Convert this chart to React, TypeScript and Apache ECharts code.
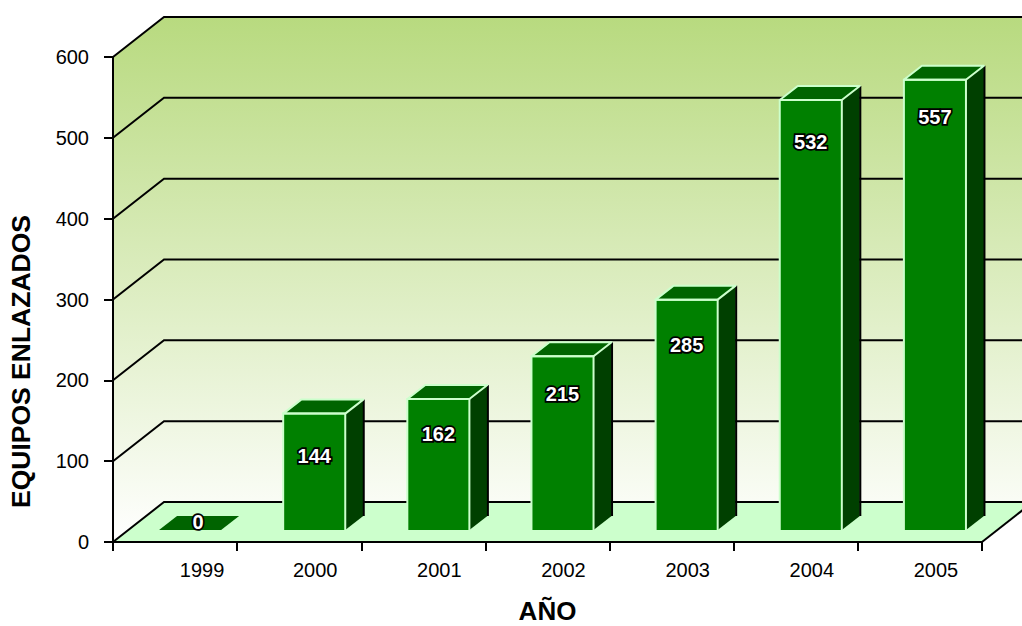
import React, { useEffect, useRef } from "react";
import * as echarts from "echarts";

const years = ["1999", "2000", "2001", "2002", "2003", "2004", "2005"];
const equipos = [0, 144, 162, 215, 285, 532, 557];
const gridValues = [0, 100, 200, 300, 400, 500, 600];

// layout of the pseudo-3D box
const W = 1022, H = 626;
const GRID = { left: 113, right: 40, top: 57, bottom: 84 };
const DEPTH_X = 51, DEPTH_Y = 40;
const BAR_RATIO = 0.5;
const BAR_DX = 15, BAR_DEPTH_X = 18, BAR_DY = 12, BAR_DEPTH_Y = 14;
const FONT = "Liberation Sans";
// distance of each value label below the bar's top edge (hand placed in the source chart)
const labelDrop = [-8, 42, 35, 38, 45, 42, 37];

const wallGradient = () =>
  new echarts.graphic.LinearGradient(0, 17, 0, 542, [
    { offset: 0, color: "#b8da7f" },
    { offset: 1, color: "#ffffff" },
  ], true);

const renderWalls = (params: any, api: any) => {
  const cs = params.coordSys;
  const x0 = cs.x, x1 = cs.x + cs.width;
  const yBase = api.coord([0, 0])[1];
  const yTop = api.coord([0, 600])[1];
  const children: any[] = [];
  const grad = wallGradient();
  children.push({
    type: "polygon",
    shape: { points: [[x0, yTop], [x0 + DEPTH_X, yTop - DEPTH_Y], [x1 + DEPTH_X, yTop - DEPTH_Y], [x1 + DEPTH_X, yBase - DEPTH_Y], [x0 + DEPTH_X, yBase - DEPTH_Y], [x0, yBase]] },
    style: { fill: grad },
  });
  children.push({
    type: "polygon",
    shape: { points: [[x0, yBase], [x1, yBase], [x1 + DEPTH_X, yBase - DEPTH_Y], [x0 + DEPTH_X, yBase - DEPTH_Y]] },
    style: { fill: "#ccffcc" },
  });
  for (const v of gridValues) {
    const y = api.coord([0, v])[1];
    children.push({
      type: "polyline",
      shape: { points: [[x0, y], [x0 + DEPTH_X, y - DEPTH_Y], [x1 + DEPTH_X, y - DEPTH_Y]] },
      style: { fill: "none", stroke: "#000", lineWidth: 2 },
    });
  }
  children.push({
    type: "line",
    shape: { x1, y1: yBase, x2: x1 + DEPTH_X, y2: yBase - DEPTH_Y },
    style: { stroke: "#000", lineWidth: 2 },
  });
  return { type: "group", children };
};

const renderBar = (params: any, api: any) => {
  const idx = api.value(0);
  const val = api.value(1);
  const pTop = api.coord([idx, val]);
  const pBase = api.coord([idx, 0]);
  const bw = api.size([1, 0])[0] * BAR_RATIO;
  const dx = BAR_DEPTH_X, dy = BAR_DEPTH_Y;
  const xL = pBase[0] - bw / 2 + BAR_DX, xR = xL + bw;
  const yB = pBase[1] - BAR_DY, yT = pTop[1] - BAR_DY;
  const children: any[] = [];
  const light = "#ccffcc";
  const topFace = [[xL, yT], [xR, yT], [xR + dx, yT - dy], [xL + dx, yT - dy]];
  if (val > 0) {
    children.push({
      type: "polygon",
      shape: { points: [[xR, yT], [xR + dx, yT - dy], [xR + dx, yB - dy], [xR, yB]] },
      style: { fill: "#004000" },
    });
    children.push({
      type: "line",
      shape: { x1: xR + dx + 0.5, y1: yT - dy, x2: xR + dx + 0.5, y2: yB - dy },
      style: { stroke: "#000", lineWidth: 2 },
    });
    children.push({
      type: "rect",
      shape: { x: xL, y: yT, width: bw, height: yB - yT },
      style: { fill: "#008000" },
    });
    children.push({
      type: "polygon",
      shape: { points: topFace },
      style: { fill: "#006400", stroke: light, lineWidth: 2, lineJoin: "round" },
    });
    children.push({
      type: "polyline",
      shape: { points: [[xL, yB], [xL, yT], [xR, yT], [xR, yB]] },
      style: { fill: "none", stroke: light, lineWidth: 2 },
    });
  } else {
    children.push({ type: "polygon", shape: { points: topFace }, style: { fill: "#006400" } });
  }
  children.push({
    type: "text",
    x: (xL + xR) / 2 + (val > 0 ? 0 : 8),
    y: yT + labelDrop[idx],
    style: {
      text: String(val),
      x: 0,
      y: 0,
      align: "center",
      verticalAlign: "middle",
      font: `bold 20px "${FONT}"`,
      fill: "#fff",
      stroke: "#000",
      lineWidth: 3.5,
    },
  });
  return { type: "group", children };
};

export default function App() {
  const ref = useRef<HTMLDivElement>(null);
  useEffect(() => {
    document.body.style.margin = "0";
    document.body.style.overflow = "hidden";
    const chart = echarts.init(ref.current!, null, { renderer: "svg" });
    chart.setOption({
      animation: false,
      backgroundColor: "#fff",
      grid: { ...GRID, outerBoundsMode: "none" },
      xAxis: {
        type: "category",
        data: years,
        name: "AÑO",
        nameLocation: "middle",
        nameGap: 56,
        nameTextStyle: { fontFamily: FONT, fontWeight: "bold", fontSize: 26, color: "#000" },
        axisLine: { show: true, lineStyle: { color: "#000", width: 2 } },
        axisTick: { show: true, interval: 0, length: 9, lineStyle: { color: "#000", width: 2 }, alignWithLabel: false },
        axisLabel: {
          interval: 0,
          fontFamily: FONT,
          fontSize: 20,
          color: "#000",
          margin: 18,
          hideOverlap: false,
          formatter: (v: string, i: number) => (i === 0 ? `{first|${v}}` : `{rest|${v}}`),
          rich: {
            first: { fontFamily: FONT, fontSize: 20, color: "#000", padding: [0, 0, 0, 54] },
            rest: { fontFamily: FONT, fontSize: 20, color: "#000", padding: [0, 0, 0, 32] },
          },
        },
        splitLine: { show: false },
      },
      yAxis: {
        type: "value",
        min: 0,
        max: 600,
        interval: 100,
        name: "EQUIPOS ENLAZADOS",
        nameLocation: "middle",
        nameGap: 79,
        nameRotate: 90,
        nameTextStyle: { fontFamily: FONT, fontWeight: "bold", fontSize: 26.5, color: "#000", padding: [0, 124, 0, 0] },
        axisLine: { show: true, lineStyle: { color: "#000", width: 2 } },
        axisTick: { show: true, length: 9, lineStyle: { color: "#000", width: 2 } },
        axisLabel: { fontFamily: FONT, fontSize: 20, color: "#000", margin: 24, padding: [12, 0, 0, 0] },
        splitLine: { show: false },
      },
      series: [
        { type: "custom", z: -2, silent: true, coordinateSystem: "cartesian2d", data: [[0, 0]], renderItem: renderWalls },
        {
          type: "custom",
          z: -1,
          silent: true,
          coordinateSystem: "cartesian2d",
          encode: { x: 0, y: 1 },
          data: equipos.map((v, i) => [i, v]),
          renderItem: renderBar,
        },
      ],
    });
    return () => chart.dispose();
  }, []);
  return <div ref={ref} style={{ width: W, height: H }} />;
}
